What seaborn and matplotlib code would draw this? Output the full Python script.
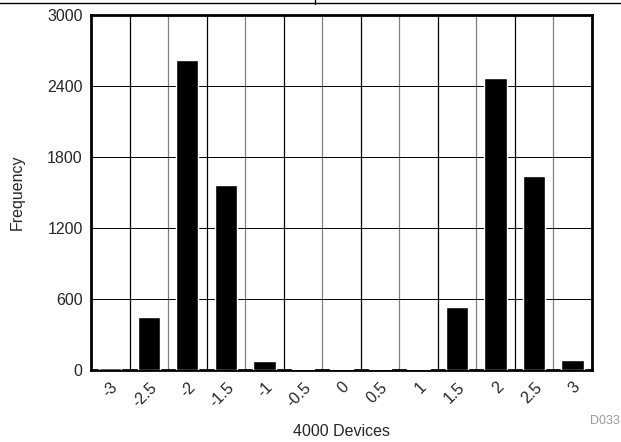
import pandas as pd
import matplotlib
matplotlib.use("Agg")
import matplotlib.pyplot as plt
import seaborn as sns
from matplotlib.lines import Line2D

# dados
categorias = ["-3", "-2.5", "-2", "-1.5", "-1", "-0.5", "0", "0.5", "1", "1.5", "2", "2.5", "3"]
frequencia = [20, 450, 2620, 1560, 75, 5, 4, 5, 12, 530, 2470, 1640, 85]
y_ticks = [0, 600, 1200, 1800, 2400, 3000]

sns.set_theme(style="white")
plt.rcParams['font.family'] = ['Liberation Sans', 'DejaVu Sans']

df = pd.DataFrame({"Devices": categorias, "Frequency": frequencia})

fig = plt.figure(figsize=(6.21, 4.42), dpi=100)
ax = fig.add_axes([0.1465, 0.163, 0.8065, 0.803])

sns.barplot(data=df, x="Devices", y="Frequency", order=categorias, color="black",
            width=0.58, saturation=1, ax=ax, zorder=3)

# linhas de grelha verticais entre categorias (alternando preto e cinzento)
for i in range(len(categorias) - 1):
    cor = "black" if i % 2 == 0 else "#808080"
    ax.axvline(i + 0.5, color=cor, linewidth=0.9, zorder=1)
for v in y_ticks[1:-1]:
    ax.axhline(v, color="black", linewidth=0.7, zorder=1)

ax.set_xlim(-0.5, len(categorias) - 0.5)
ax.set_ylim(0, 3000)
ax.set_yticks(y_ticks)
ax.set_yticklabels([str(v) for v in y_ticks], fontsize=11.5)
ax.set_xticks(range(len(categorias)))
ax.set_xticklabels(categorias, rotation=45, ha="right", rotation_mode="anchor", fontsize=11.5)
ax.tick_params(axis="both", length=0, pad=6)
ax.tick_params(axis="x", pad=7)

for s in ax.spines.values():
    s.set_linewidth(2)
    s.set_color("black")
    s.set_visible(True)

ax.set_xlabel("4000 Devices", fontsize=11.5, labelpad=10)
ax.set_ylabel("Frequency", fontsize=11.5, labelpad=16)

fig.text(0.998, 0.048, "D033", color="#999999", fontsize=9, ha="right", va="center")

# linha superior do documento
fig.add_artist(Line2D([0, 1], [0.994, 0.994], color="black", linewidth=1, transform=fig.transFigure))
fig.add_artist(Line2D([0.507, 0.507], [1.0, 0.991], color="black", linewidth=1, transform=fig.transFigure))

fig.savefig("out.png", dpi=100)
